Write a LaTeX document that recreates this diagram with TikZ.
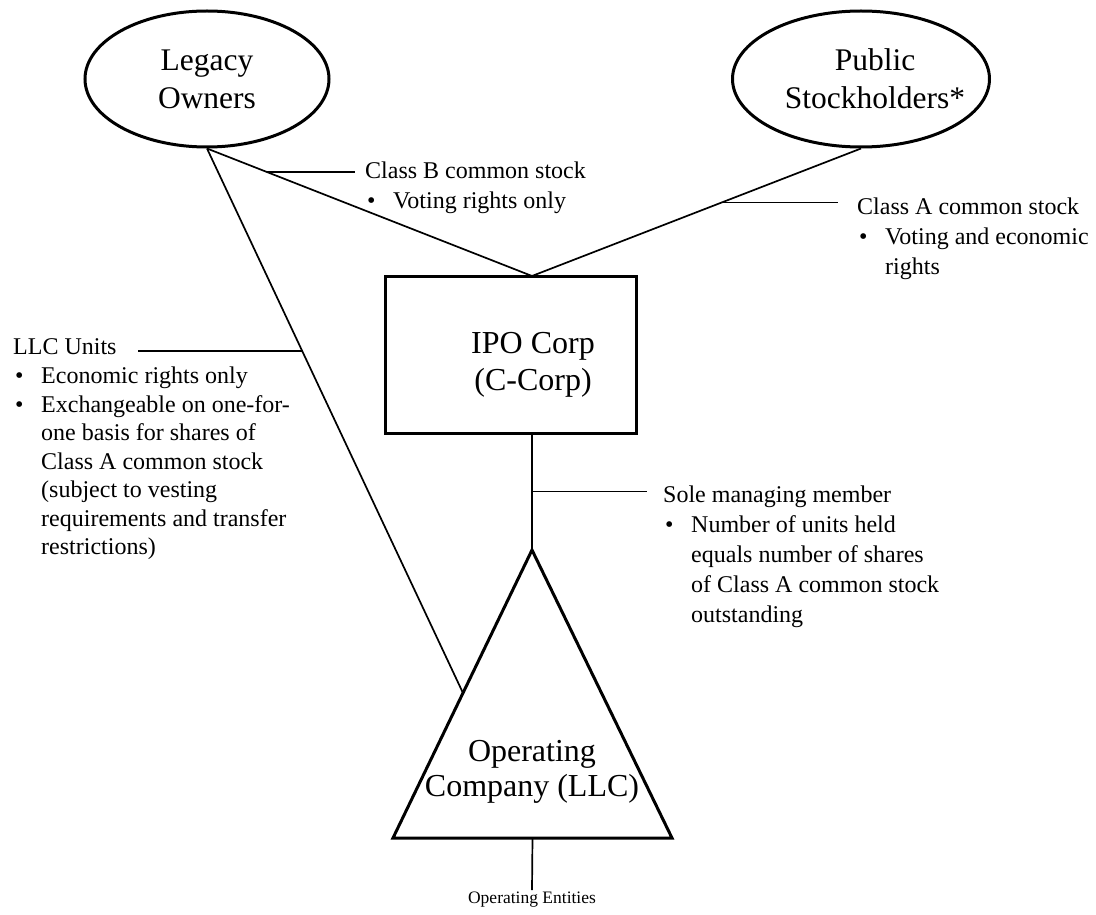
\documentclass[tikz,border=0pt]{standalone}
\usepackage{fontspec}
\setmainfont{Liberation Serif}
\usetikzlibrary{shapes.geometric,calc}
\newcommand{\notebullet}{\makebox[28pt][l]{\hspace{2pt}\textbullet}}
\newcommand{\noteindent}{\hspace*{28pt}}

\begin{document}
\begin{tikzpicture}[
  x=1pt, y=-1pt,
  ownnode/.style={ellipse, draw, line width=3pt, inner sep=0pt, align=center,
               minimum height=136pt, font=\fontsize{31.5}{38}\selectfont},
  corpnode/.style={rectangle, draw, line width=3pt, inner sep=0pt,
               minimum width=251pt, minimum height=157pt},
  bigtext/.style={align=center, inner sep=0pt, font=\fontsize{32}{37}\selectfont},
  note/.style={anchor=north west, align=left, inner sep=0pt,
               font=\fontsize{24}{30}\selectfont},
  link/.style={line width=1.7pt}
]
  \useasboundingbox (0,0) rectangle (1096,915);
  % owners
  \node[ownnode, minimum width=244pt] (legacy) at (207,79) {Legacy\\Owners};
  \node[ownnode, minimum width=257pt,
        label={[bigtext, font=\fontsize{31.5}{38}\selectfont, xshift=14pt]center:Public\\Stockholders*}]
        (public) at (861,79) {};
  % corporation
  \node[corpnode] (ipo) at (510.5,354.5) {};
  \node[bigtext] (ipotext) at (533,365) {IPO Corp\\(C-Corp)};
  \coordinate (ipotop) at (532,276);
  \coordinate (ipobot) at (532,433);
  % operating company
  \draw[line width=3pt, line join=miter] (532,550) coordinate (apex)
    -- (672,838) coordinate (baser) -- (393,838) coordinate (basel) -- cycle;
  \node[bigtext, font=\fontsize{32}{35}\selectfont] (opco) at (532,772) {Operating\\Company (LLC)};
  \coordinate (basemid) at ($(basel)!0.5!(baser)$);
  \coordinate (llcend) at ($(apex)!0.4965!(basel)$);
  \node[inner sep=2pt, font=\fontsize{17.5}{21}\selectfont] (opent) at (532,900) {Operating Entities};
  % labels
  \node[note] (clsb) at (365,162) {Class B common stock\\\notebullet Voting rights only};
  \node[note] (clsa) at (857,198) {Class A common stock\\\notebullet Voting and economic\\\noteindent rights};
  \node[note] (llchead) at (13,338) {LLC Units};
  \node[note, font=\fontsize{24}{28.5}\selectfont] (llcbody) at (13,367) {\notebullet Economic rights only\\\notebullet Exchangeable on one-for-\\\noteindent one basis for shares of\\\noteindent Class A common stock\\\noteindent (subject to vesting\\\noteindent requirements and transfer\\\noteindent restrictions)};
  \node[note] (sole) at (663,486) {Sole managing member\\\notebullet Number of units held\\\noteindent equals number of shares\\\noteindent of Class A common stock\\\noteindent outstanding};
  % ownership lines
  \draw[link] (legacy.south) -- coordinate[pos=0.185] (btick) (ipotop);
  \draw[link] (public.south) -- coordinate[pos=0.4225] (atick) (ipotop);
  \draw[link] (legacy.south) -- coordinate[pos=0.372] (ltick) (llcend);
  \draw[link] (ipobot) -- coordinate[pos=0.5] (stick) (apex);
  \draw[link] (basemid) -- (opent.north);
  % label ticks
  \draw[link] (btick) -- ($(btick -| clsb.west)+(-10,0)$);
  \draw[link] (atick) -- ($(atick -| clsa.west)+(-19,0)$);
  \draw[link] (ltick) -- ($(ltick -| llchead.east)+(21,0)$);
  \draw[link] (stick) -- ($(stick -| sole.west)+(-16,0)$);
\end{tikzpicture}
\end{document}
